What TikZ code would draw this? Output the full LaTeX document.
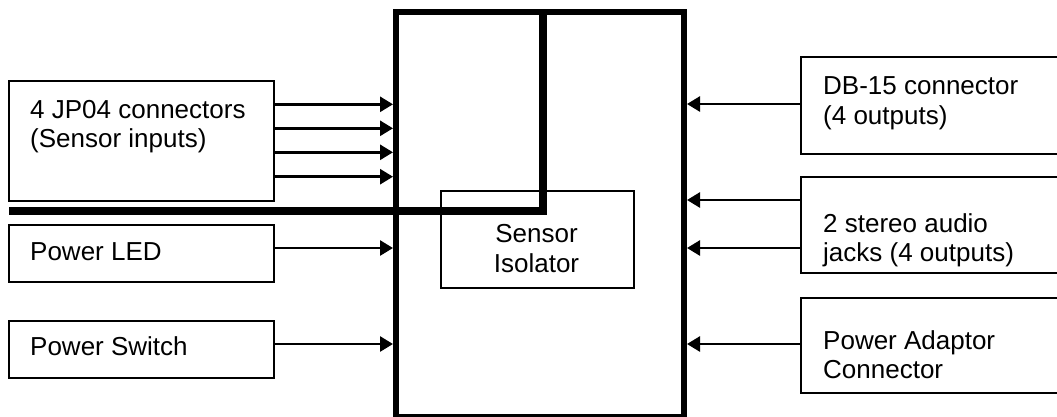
\documentclass[tikz,border=0pt]{standalone}
\usepackage{fontspec}
\setmainfont{Liberation Sans}
\usetikzlibrary{arrows.meta}
\begin{document}
\begin{tikzpicture}[x=1pt,y=-1pt,
  box/.style={draw,line width=1.6pt,rectangle,inner sep=0pt,anchor=north west,fill=white},
  mainbox/.style={draw,line width=6pt,rectangle,inner sep=0pt,anchor=north west,fill=white},
  isobox/.style={draw,line width=1.5pt,rectangle,inner sep=0pt,anchor=north west},
  lbl/.style={anchor=base west,inner sep=0pt,font=\fontsize{26}{30}\selectfont},
  clbl/.style={anchor=base,inner sep=0pt,font=\fontsize{26}{30}\selectfont},
  arr/.style={line width=2.7pt,-{Triangle[length=13pt,width=15pt]}},
  bus/.style={line width=8pt,line join=miter},
]
\useasboundingbox (0,0) rectangle (1057,416);
% central block
\node[mainbox,minimum width=288pt,minimum height=404.5pt] (main) at (393,9) {};
\node[isobox,minimum width=193pt,minimum height=97pt] (iso) at (440,190) {};
% left blocks
\node[box,minimum width=265pt,minimum height=120pt] (jp) at (8,80) {};
\node[box,minimum width=265pt,minimum height=57pt] (led) at (8,224) {};
\node[box,minimum width=265pt,minimum height=57pt] (sw) at (8,320) {};
% right blocks
\node[box,minimum width=270pt,minimum height=97pt] (db) at (800,56) {};
\node[box,minimum width=270pt,minimum height=96pt] (jack) at (800,176) {};
\node[box,minimum width=270pt,minimum height=95pt] (pa) at (800,297) {};
% labels
\node[lbl] (jpA) at (30,118) {4 JP04 connectors};
\node[lbl] (jpB) at (30,147) {(Sensor inputs)};
\node[lbl] (ledA) at (30,260) {Power LED};
\node[lbl] (swA) at (30,355) {Power Switch};
\node[lbl] (dbA) at (823,94) {DB-15 connector};
\node[lbl] (dbB) at (823,124) {(4 outputs)};
\node[lbl] (jackA) at (823,232) {2 stereo audio};
\node[lbl] (jackB) at (823,261) {jacks (4 outputs)};
\node[lbl] (paA) at (823,349) {Power Adaptor};
\node[lbl] (paB) at (823,378) {Connector};
\node[clbl] (isoA) at (536.5,242) {Sensor};
\node[clbl] (isoB) at (536.5,272) {Isolator};
% left arrows
\foreach \yy in {104.3,128.3,152.3,176.7}{
  \draw[arr] (jp.east |- 0,\yy) -- (main.west |- 0,\yy);
}
\draw[arr] (led.east |- 0,248) -- (main.west |- 0,248);
\draw[arr] (sw.east |- 0,344) -- (main.west |- 0,344);
% right arrows
\draw[arr] (db.west |- 0,104) -- (main.east |- 0,104);
\draw[arr] (jack.west |- 0,200) -- (main.east |- 0,200);
\draw[arr] (jack.west |- 0,248) -- (main.east |- 0,248);
\draw[arr] (pa.west |- 0,344) -- (main.east |- 0,344);
% thick bus line
\coordinate (busstart) at (9,211);
\coordinate (bend) at (543,211);
\draw[bus] (busstart) -- (bend) -- (bend |- main.north);
\end{tikzpicture}
\end{document}
